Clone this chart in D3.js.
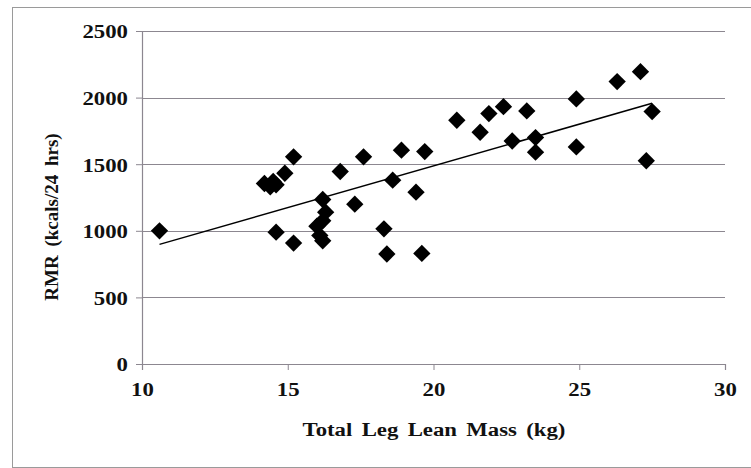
<!DOCTYPE html>
<html>
<head>
<meta charset="utf-8">
<script src="https://cdn.jsdelivr.net/npm/d3@7"></script>
<style>
  body { margin: 0; background: #fff; }
  text { font-family: "Liberation Serif", "Times New Roman", serif; font-weight: bold; fill: #111; }
</style>
</head>
<body>
<div id="chart"></div>
<script>
// lean mass (kg) vs RMR
var legMass = [10.6, 14.2, 14.4, 14.6, 14.5, 14.9, 15.2, 14.6, 15.2,
    16.2, 16.3, 16.2, 16.0, 16.1, 16.2, 16.8, 17.3, 17.6, 18.3, 18.4,
    18.6, 18.9, 19.4, 19.6, 19.7, 20.8, 21.6, 21.9, 22.4, 22.7, 23.2,
    23.5, 23.5, 24.9, 24.9, 26.3, 27.1, 27.5, 27.3];
var rmr = [1000, 1355, 1330, 1345, 1370, 1432, 1555, 990, 908,
    1235, 1140, 1075, 1035, 965, 925, 1445, 1200, 1555, 1015, 826,
    1380, 1605, 1290, 830, 1595, 1830, 1740, 1880, 1932, 1674, 1900,
    1700, 1590, 1990, 1630, 2120, 2195, 1895, 1526];

// linear trend end points
var trendX = [10.6, 27.5];
var trendY = [898, 1957];

var xTicks = [10, 15, 20, 25, 30];
var yTicks = [0, 500, 1000, 1500, 2000, 2500];

var svgWidth = 751;
var svgHeight = 468;

var margin = { top: 31, right: 26, bottom: 104, left: 142 };
var width = 725 - margin.left;
var height = 364 - margin.top;
var stretch = 1.2;   // the source text is drawn wide

var svg = d3.select("#chart")
    .append("svg")
    .attr("width", svgWidth)
    .attr("height", svgHeight);

// outer frame
svg.append("rect")
    .attr("x", 12.5)
    .attr("y", 7.5)
    .attr("width", 760)
    .attr("height", 460)
    .attr("fill", "none")
    .attr("stroke", "#9a9a9a");

var chartGroup = svg.append("g")
    .attr("transform", `translate(${margin.left}, ${margin.top})`);

var xScale = d3.scaleLinear().domain([10, 30]).range([0, width]);
var yScale = d3.scaleLinear().domain([0, 2500]).range([height, 0]);

// gridlines
chartGroup.selectAll(".grid")
    .data(yTicks.slice(1))
    .enter()
    .append("line")
    .attr("x1", 0)
    .attr("x2", width)
    .attr("y1", d => Math.round(yScale(d)) + 0.5)
    .attr("y2", d => Math.round(yScale(d)) + 0.5)
    .attr("stroke", "#8c8790")
    .attr("stroke-width", 1.2);

var bottomAxis = d3.axisBottom(xScale).tickValues(xTicks).tickFormat(d3.format("d"))
    .tickSize(6).tickPadding(13);
var leftAxis = d3.axisLeft(yScale).tickValues(yTicks).tickFormat(d3.format("d"))
    .tickSize(6).tickPadding(8);

var gx = chartGroup.append("g")
    .attr("transform", `translate(0, ${height})`)
    .call(bottomAxis);

var gy = chartGroup.append("g")
    .call(leftAxis);

[gx, gy].forEach(function (g) {
    g.select(".domain").attr("stroke", "#8c8790").attr("stroke-width", 1.2);
    g.selectAll(".tick line").attr("stroke", "#8c8790");
    g.selectAll(".tick text")
        .attr("font-family", "Liberation Serif, serif")
        .attr("font-weight", "bold")
        .attr("font-size", 19)
        .attr("fill", "#111");
});
gx.selectAll(".tick text").attr("transform", `scale(${stretch},1)`);
gy.selectAll(".tick text")
    .attr("dy", "0.36em")
    .attr("x", -14 / stretch)
    .attr("transform", `scale(${stretch},1)`);

// trend line
chartGroup.append("line")
    .attr("x1", xScale(trendX[0]))
    .attr("y1", yScale(trendY[0]))
    .attr("x2", xScale(trendX[1]))
    .attr("y2", yScale(trendY[1]))
    .attr("stroke", "#000")
    .attr("stroke-width", 1.5);

// diamonds
var diamond = d3.symbol().type(d3.symbolSquare).size(150);
chartGroup.selectAll("path.pt")
    .data(legMass)
    .enter()
    .append("path")
    .attr("class", "pt")
    .attr("d", diamond)
    .attr("transform", (d, i) => `translate(${xScale(d)}, ${yScale(rmr[i])}) rotate(45)`)
    .attr("fill", "#000");

// axis titles
svg.append("text")
    .attr("transform", `translate(434, 436) scale(${stretch},1)`)
    .attr("text-anchor", "middle")
    .attr("font-size", 19)
    .attr("word-spacing", 3)
    .text("Total Leg Lean Mass (kg)");

svg.append("text")
    .attr("transform", "translate(58, 217) rotate(-90)")
    .attr("text-anchor", "middle")
    .attr("font-size", 19)
    .attr("word-spacing", 4)
    .text("RMR (kcals/24 hrs)");
</script>
</body>
</html>
